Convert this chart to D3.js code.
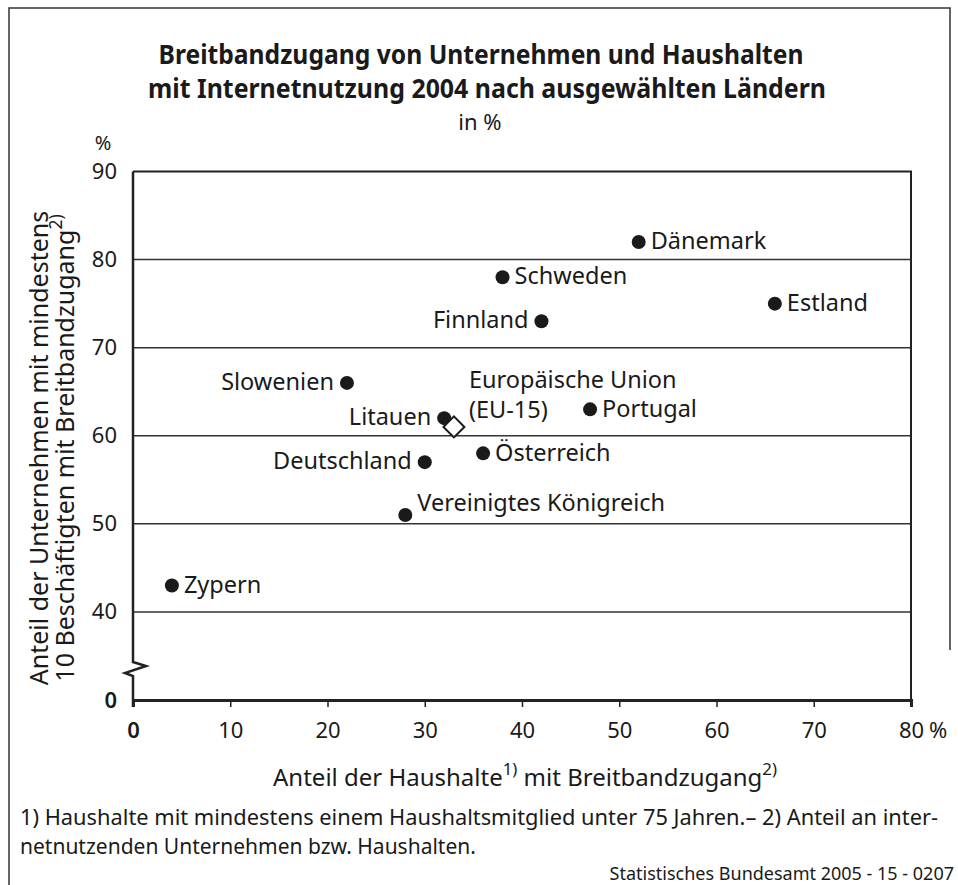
<!DOCTYPE html>
<html><head><meta charset="utf-8">
<script src="https://cdn.jsdelivr.net/npm/d3@7"></script>
<style>
body{margin:0;background:#fff;}
svg{display:block;}
text{font-family:"Noto Sans",sans-serif;fill:#1a1a1a;}
</style></head>
<body><svg id="c" width="958" height="885"></svg>
<script>
// ---- data ----
const countries = ["Dänemark","Schweden","Estland","Finnland","Slowenien","Litauen","Portugal","Deutschland","Österreich","Vereinigtes Königreich","Zypern"];
const households = [52,38,66,42,22,32,47,30,36,28,4];   // x: % households with broadband
const enterprises = [82,78,75,73,66,62,63,57,58,51,43]; // y: % enterprises with broadband
const euLabel = ["Europäische Union","(EU-15)"];
const euValue = [33,61];
const xTicks = [0,10,20,30,40,50,60,70,80];
const yTicks = [40,50,60,70,80,90];

// label placement (style only)
const labelSide = {"Dänemark":"r","Schweden":"r","Estland":"r","Finnland":"l","Slowenien":"l","Litauen":"l","Portugal":"r","Deutschland":"l","Österreich":"r","Vereinigtes Königreich":"r","Zypern":"r"};

const svg = d3.select("#c");
const x = d3.scaleLinear().domain([0,80]).range([133,911]);
const y = d3.scaleLinear().domain([30,90]).range([700,171.5]); // 30 == broken-axis baseline ("0")

// outer frame
svg.append("path").attr("d","M9,885 V8 H950 V650").attr("fill","none").attr("stroke","#333").attr("stroke-width",1.5);

// title
const title = svg.append("g").attr("font-weight","700").attr("text-anchor","middle");
title.append("text").attr("x",481).attr("y",64).attr("font-size",26).attr("textLength",645).attr("lengthAdjust","spacingAndGlyphs").text("Breitbandzugang von Unternehmen und Haushalten");
title.append("text").attr("x",487).attr("y",98).attr("font-size",26).attr("textLength",678).attr("lengthAdjust","spacingAndGlyphs").text("mit Internetnutzung 2004 nach ausgewählten Ländern");
svg.append("text").attr("x",480).attr("y",130).attr("font-size",22).attr("text-anchor","middle").text("in %");

// gridlines
svg.append("g").selectAll("line").data(yTicks.filter(v=>v<90)).join("line")
  .attr("x1",x(0)).attr("x2",x(80)).attr("y1",d=>y(d)).attr("y2",d=>y(d))
  .attr("stroke","#333").attr("stroke-width",1.5);
// top + right border of plot
svg.append("path").attr("d",`M${x(0)},${y(90)} H${x(80)} V${y(30)+7}`).attr("fill","none").attr("stroke","#222").attr("stroke-width",2);
// left axis with break
const yb = y(30);
svg.append("path").attr("d",`M${x(0)},${y(90)} V${yb-38} L${x(0)+13},${yb-34} L${x(0)-8},${yb-27} L${x(0)},${yb-24} V${yb+7}`)
  .attr("fill","none").attr("stroke","#222").attr("stroke-width",2.5).attr("stroke-linejoin","miter");

// x axis
const xAxis = d3.axisBottom(x).tickValues(xTicks).tickSize(7).tickFormat(d=>d);
const gx = svg.append("g").attr("transform",`translate(0,${yb})`).call(xAxis);
gx.select(".domain").attr("stroke","#222").attr("stroke-width",3);
gx.selectAll(".tick line").attr("stroke","#222").attr("stroke-width",1.5);
gx.selectAll(".tick text").attr("font-size",22).attr("font-family","Noto Sans").attr("fill","#1a1a1a").attr("y",22)
  .attr("font-weight",d=>d===0?600:400);
svg.append("text").attr("x",x(80)+18).attr("y",yb+22).attr("dy","0.71em").attr("font-size",22).text("%");

// y axis labels
const yAxis = d3.axisLeft(y).tickValues(yTicks).tickSize(0).tickPadding(16);
const gy = svg.append("g").attr("transform",`translate(${x(0)},0)`).call(yAxis);
gy.select(".domain").remove();
gy.selectAll(".tick text").attr("font-size",22).attr("font-family","Noto Sans").attr("fill","#1a1a1a");
svg.append("text").attr("x",x(0)-16).attr("y",yb).attr("dy","0.35em").attr("text-anchor","end").attr("font-size",22).attr("font-weight",600).text("0");
svg.append("text").attr("x",103).attr("y",150).attr("text-anchor","middle").attr("font-size",20).text("%");

// axis titles
function supText(sel, parts){
  parts.forEach(p=>{
    const t = sel.append("tspan").text(p[0]);
    if(p[1]) t.attr("baseline-shift","super").attr("font-size","0.7em");
  });
}
const yt = svg.append("text").attr("transform","translate(0,448) rotate(-90)").attr("text-anchor","middle").attr("font-size",25);
yt.append("tspan").attr("x",0).attr("y",48).text("Anteil der Unternehmen mit mindestens");
const yt2 = yt.append("tspan").attr("x",0).attr("y",74);
supText(yt2,[["10 Beschäftigten mit Breitbandzugang"],["2)",1]]);

const xt = svg.append("text").attr("x",525).attr("y",786).attr("text-anchor","middle").attr("font-size",24);
supText(xt,[["Anteil der Haushalte"],["1)",1],[" mit Breitbandzugang"],["2)",1]]);

// points
const pts = countries.map((c,i)=>({name:c,hx:households[i],ey:enterprises[i]}));
svg.append("g").selectAll("circle").data(pts).join("circle")
  .attr("cx",d=>x(d.hx)).attr("cy",d=>y(d.ey)).attr("r",7).attr("fill","#1a1a1a");
svg.append("g").selectAll("text").data(pts).join("text")
  .attr("font-size",23.5)
  .attr("x",d=>x(d.hx)+(labelSide[d.name]==="l"?-13:12))
  .attr("y",d=>y(d.ey)+(d.name==="Vereinigtes Königreich"?-12:-1))
  .attr("dy","0.35em")
  .attr("text-anchor",d=>labelSide[d.name]==="l"?"end":"start")
  .text(d=>d.name);

// EU diamond
const ex = x(euValue[0]), ey = y(euValue[1]);
svg.append("path").attr("d",d3.symbol(d3.symbolSquare,220)())
  .attr("transform",`translate(${ex},${ey}) rotate(45)`)
  .attr("fill","#fff").attr("stroke","#1a1a1a").attr("stroke-width",2);
const eut = svg.append("text").attr("font-size",23.5);
eut.append("tspan").attr("x",ex+15).attr("y",ey-47).attr("dy","0.35em").text(euLabel[0]);
eut.append("tspan").attr("x",ex+15).attr("y",ey-17).attr("dy","0.35em").text(euLabel[1]);

// footnotes
svg.append("text").attr("x",20).attr("y",825).attr("font-size",21).attr("textLength",918).attr("lengthAdjust","spacingAndGlyphs")
  .text("1) Haushalte mit mindestens einem Haushaltsmitglied unter 75 Jahren.– 2) Anteil an inter-");
svg.append("text").attr("x",20).attr("y",854).attr("font-size",21).text("netnutzenden Unternehmen bzw. Haushalten.");
svg.append("text").attr("x",954).attr("y",880).attr("font-size",18).attr("text-anchor","end").text("Statistisches Bundesamt 2005 - 15 - 0207");
</script></body></html>
